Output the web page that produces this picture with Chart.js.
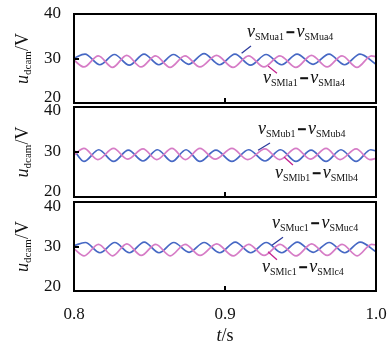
<!DOCTYPE html>
<html>
<head>
<meta charset="utf-8">
<script src="https://cdn.jsdelivr.net/npm/chart.js@4/dist/chart.umd.min.js"></script>
<style>
  html, body { margin: 0; padding: 0; background: #fff; }
  #wrap { position: relative; width: 392px; height: 344px; }
  #wrap canvas { position: absolute; left: 0; top: 0; }
</style>
</head>
<body>
<div id="wrap">
  <canvas id="pa" width="392" height="344"></canvas>
  <canvas id="pb" width="392" height="344"></canvas>
  <canvas id="pc" width="392" height="344"></canvas>
</div>
<script>
// Axis ticks (time in s, voltage in V)
const xTicks = [0.8, 0.9, 1.0];
const yTicks = [20, 30, 40];

// Phase a: upper arm (SMua1 - SMua4) and lower arm (SMla1 - SMla4)
const tUa = [0.8000, 0.8073, 0.8171, 0.8268, 0.8366, 0.8464, 0.8562, 0.8659, 0.8760, 0.8861, 0.8964,
             0.9066, 0.9169, 0.9272, 0.9375, 0.9477, 0.9583, 0.9689, 0.9792, 0.9894, 1.0000];
const vUa = [30.1, 31.0, 28.6, 30.9, 28.5, 31.0, 28.6, 30.9, 28.7, 31.1, 28.6,
             31.0, 28.5, 30.9, 28.6, 31.0, 28.7, 31.0, 28.6, 31.0, 28.7];
const tLa = [0.8000, 0.8066, 0.8161, 0.8255, 0.8349, 0.8444, 0.8540, 0.8636, 0.8735, 0.8834, 0.8944,
             0.9053, 0.9156, 0.9258, 0.9364, 0.9470, 0.9573, 0.9676, 0.9775, 0.9874, 0.9970, 1.0000];
const vLa = [29.6, 28.1, 30.6, 28.0, 30.7, 28.1, 30.6, 28.0, 30.6, 28.1, 30.7,
             28.0, 30.6, 28.1, 30.6, 28.0, 30.7, 28.1, 30.6, 28.0, 30.6, 30.4];

// Phase b
const tUb = [0.8000, 0.8066, 0.8164, 0.8262, 0.8360, 0.8457, 0.8553, 0.8649, 0.8742, 0.8834, 0.8940,
             0.9046, 0.9156, 0.9265, 0.9368, 0.9470, 0.9570, 0.9669, 0.9768, 0.9868, 0.9965, 1.0000];
const vUb = [30.4, 27.9, 30.5, 27.9, 30.4, 28.0, 30.5, 27.9, 30.5, 27.9, 30.4,
             27.9, 30.5, 28.0, 30.5, 27.9, 30.4, 27.9, 30.5, 27.9, 30.5, 30.2];
const tLb = [0.8000, 0.8066, 0.8158, 0.8262, 0.8354, 0.8457, 0.8548, 0.8649, 0.8738, 0.8834, 0.8935,
             0.9046, 0.9150, 0.9265, 0.9362, 0.9470, 0.9565, 0.9669, 0.9762, 0.9868, 0.9960, 1.0000];
const vLb = [29.3, 30.8, 28.3, 30.8, 28.4, 30.7, 28.3, 30.8, 28.3, 30.8, 28.4,
             30.8, 28.3, 30.7, 28.3, 30.8, 28.4, 30.8, 28.3, 30.7, 28.3, 28.6];

// Phase c
const tUc = [0.8000, 0.8075, 0.8172, 0.8270, 0.8367, 0.8465, 0.8563, 0.8661, 0.8762, 0.8862, 0.8965,
             0.9068, 0.9170, 0.9273, 0.9376, 0.9479, 0.9584, 0.9690, 0.9793, 0.9895, 1.0000];
const vUc = [30.2, 30.9, 28.6, 30.9, 28.6, 31.0, 28.6, 30.9, 28.7, 30.9, 28.6,
             31.0, 28.6, 30.9, 28.6, 31.0, 28.7, 30.9, 28.6, 31.0, 28.8];
const tLc = [0.8000, 0.8067, 0.8162, 0.8256, 0.8350, 0.8445, 0.8541, 0.8637, 0.8736, 0.8835, 0.8945,
             0.9054, 0.9157, 0.9259, 0.9365, 0.9471, 0.9574, 0.9677, 0.9776, 0.9875, 0.9971, 1.0000];
const vLc = [29.5, 27.9, 30.5, 27.9, 30.6, 28.0, 30.5, 27.9, 30.5, 28.0, 30.6,
             27.9, 30.5, 28.0, 30.5, 27.9, 30.6, 28.0, 30.5, 27.9, 30.5, 30.3];

const SERIF = '"Liberation Serif", "Times New Roman", serif';
const BLUE = '#4668c4';
const PINK = '#d67cc6';
const BLUE_PTR = '#2c3a9c';
const PINK_PTR = '#c4228e';
const TICK_SIZE = 17;

function pts(ts, vs) { return ts.map((t, i) => ({ x: t, y: vs[i] })); }

// Draw a run of text pieces (main letters, subscripts, dash) left to right
function richWidth(ctx, parts) {
  let w = 0;
  parts.forEach(p => { ctx.font = p.font; w += ctx.measureText(p.text).width + (p.gap || 0); });
  return w;
}
function drawRich(ctx, parts, x, y) {
  let cx = x;
  parts.forEach(p => {
    ctx.font = p.font;
    ctx.fillText(p.text, cx, y + (p.dy || 0));
    if (p.heavy) { ctx.lineWidth = 0.9; ctx.strokeText(p.text, cx, y + (p.dy || 0)); }
    cx += ctx.measureText(p.text).width + (p.gap || 0);
  });
}
function diffLabel(sub) {
  return [
    { text: 'v', font: 'italic 18px ' + SERIF },
    { text: sub + '1', font: '10px ' + SERIF, dy: 3, gap: 2 },
    { text: '\u2212', font: 'bold 15px ' + SERIF, gap: 2, heavy: true },
    { text: 'v', font: 'italic 18px ' + SERIF },
    { text: sub + '4', font: '10px ' + SERIF, dy: 3 }
  ];
}

const panelDecor = {
  id: 'panelDecor',
  afterDraw(chart, args, o) {
    const { ctx, chartArea: a } = chart;
    const xs = chart.scales.x, ys = chart.scales.y;
    ctx.save();
    ctx.fillStyle = '#111';
    ctx.strokeStyle = '#111';
    ctx.textBaseline = 'alphabetic';
    ctx.textAlign = 'left';

    // pointer lines and series names
    o.notes.forEach(n => {
      ctx.strokeStyle = n.color;
      ctx.lineWidth = 1.3;
      ctx.beginPath();
      ctx.moveTo(xs.getPixelForValue(n.from[0]), ys.getPixelForValue(n.from[1]));
      ctx.lineTo(xs.getPixelForValue(n.to[0]), ys.getPixelForValue(n.to[1]));
      ctx.stroke();
      ctx.fillStyle = '#111';
      ctx.strokeStyle = '#111';
      drawRich(ctx, diffLabel(n.sub), xs.getPixelForValue(n.at[0]), ys.getPixelForValue(n.at[1]));
    });

    // frame
    ctx.strokeStyle = '#000';
    ctx.lineWidth = 2;
    ctx.strokeRect(a.left, a.top, a.right - a.left, a.bottom - a.top);

    // inward tick marks for interior ticks
    ctx.beginPath();
    yTicks.filter(v => v > ys.min && v < ys.max).forEach(v => {
      const p = Math.round(ys.getPixelForValue(v));
      ctx.moveTo(a.left, p); ctx.lineTo(a.left + 5, p);
    });
    xTicks.filter(v => v > xs.min + 1e-9 && v < xs.max - 1e-9).forEach(v => {
      const p = Math.round(xs.getPixelForValue(v));
      ctx.moveTo(p, a.bottom); ctx.lineTo(p, a.bottom - 5);
    });
    ctx.stroke();

    // y axis title, rotated
    const yt = [
      { text: 'u', font: 'italic 18px ' + SERIF },
      { text: 'dcam', font: '11px ' + SERIF, dy: 3 },
      { text: '/V', font: '18px ' + SERIF }
    ];
    ctx.fillStyle = '#111';
    const w = richWidth(ctx, yt);
    ctx.save();
    ctx.translate(28, (a.top + a.bottom) / 2);
    ctx.rotate(-Math.PI / 2);
    drawRich(ctx, yt, -w / 2, 0);
    ctx.restore();

    // x axis title
    if (o.xTitle) {
      const xt = [
        { text: 't', font: 'italic 18px ' + SERIF },
        { text: '/s', font: '18px ' + SERIF }
      ];
      const wx = richWidth(ctx, xt);
      drawRich(ctx, xt, (a.left + a.right) / 2 - wx / 2, 341);
    }
    ctx.restore();
  }
};

function makePanel(id, p) {
  return new Chart(document.getElementById(id), {
    type: 'line',
    data: {
      datasets: [
        { data: pts(p.tL, p.vL), borderColor: PINK, borderWidth: 1.7, pointRadius: 0,
          cubicInterpolationMode: 'monotone', fill: false },
        { data: pts(p.tU, p.vU), borderColor: BLUE, borderWidth: 1.7, pointRadius: 0,
          cubicInterpolationMode: 'monotone', fill: false }
      ]
    },
    options: {
      responsive: false,
      animation: false,
      events: [],
      layout: { padding: { left: 0, right: 16, top: p.top, bottom: p.bottom } },
      plugins: {
        legend: { display: false },
        tooltip: { enabled: false },
        panelDecor: { notes: p.notes, xTitle: p.showX }
      },
      scales: {
        x: {
          type: 'linear', min: xTicks[0], max: xTicks[xTicks.length - 1],
          display: p.showX,
          grid: { display: false }, border: { display: false },
          afterBuildTicks: s => { s.ticks = xTicks.map(v => ({ value: v })); },
          ticks: {
            padding: 5, color: '#111', maxRotation: 0, autoSkip: false,
            font: { family: SERIF, size: TICK_SIZE },
            callback: v => Number(v).toFixed(1)
          },
          afterFit: s => { if (p.showX) s.height = 53; }
        },
        y: {
          type: 'linear', min: yTicks[0], max: yTicks[yTicks.length - 1],
          grid: { display: false }, border: { display: false },
          afterBuildTicks: s => { s.ticks = yTicks.map(v => ({ value: v })); },
          ticks: {
            padding: 5, color: '#111',
            font: c => {
              const v = c.tick ? c.tick.value : 30;
              const lh = v === 40 ? (2 * p.topShift || 16) : v === 20 ? 2 * p.botShift : 16;
              return { family: SERIF, size: TICK_SIZE, lineHeight: lh + 'px' };
            },
            callback: v => {
              if (v === 40 && p.topShift) return ['', '40'];
              if (v === 20 && p.botShift) return ['20', ''];
              return String(v);
            }
          },
          afterFit: s => { s.width = 74; }
        }
      }
    },
    plugins: [panelDecor]
  });
}

makePanel('pa', {
  tU: tUa, vU: vUa, tL: tLa, vL: vLa,
  top: 14, bottom: 241, showX: false, topShift: 0, botShift: 5,
  notes: [
    { sub: 'SMua', color: BLUE_PTR, from: [0.9110, 31.2], to: [0.9172, 32.8], at: [0.9146, 34.8] },
    { sub: 'SMla', color: PINK_PTR, from: [0.9285, 28.3], to: [0.9344, 26.7], at: [0.9252, 24.4] }
  ]
});
makePanel('pb', {
  tU: tUb, vU: vUb, tL: tLb, vL: vLb,
  top: 107, bottom: 147, showX: false, topShift: 4, botShift: 5,
  notes: [
    { sub: 'SMub', color: BLUE_PTR, from: [0.9219, 30.4], to: [0.9298, 32.0], at: [0.9219, 34.0] },
    { sub: 'SMlb', color: PINK_PTR, from: [0.9391, 28.9], to: [0.9450, 27.1], at: [0.9331, 24.2] }
  ]
});
makePanel('pc', {
  tU: tUc, vU: vUc, tL: tLc, vL: vLc,
  top: 202, bottom: 0, showX: true, topShift: 5, botShift: 4,
  notes: [
    { sub: 'SMuc', color: BLUE_PTR, from: [0.9311, 30.3], to: [0.9384, 32.1], at: [0.9311, 34.2] },
    { sub: 'SMlc', color: PINK_PTR, from: [0.9285, 28.8], to: [0.9344, 27.0], at: [0.9245, 24.3] }
  ]
});
</script>
</body>
</html>
